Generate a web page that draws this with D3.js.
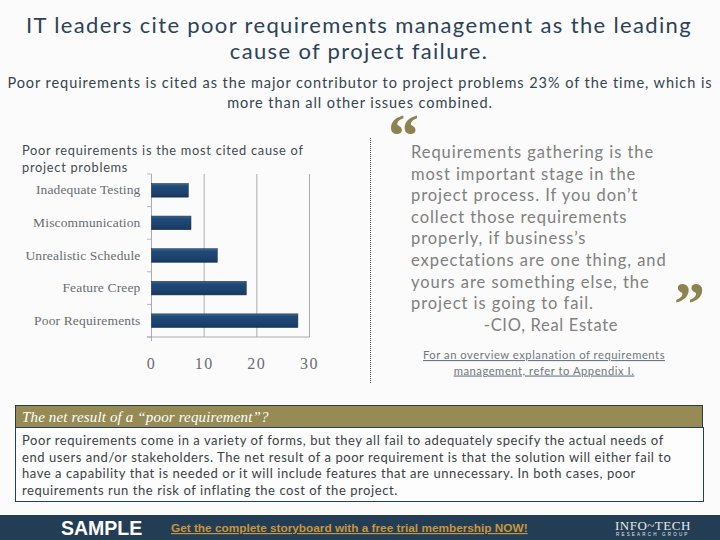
<!DOCTYPE html>
<meta charset="utf-8">
<style>
  html, body { margin: 0; padding: 0; background: #fbfbfb; }
  svg { display: block; }
  text { font-family: Lato, sans-serif; }
</style>
<script src="https://d3js.org/d3.v7.min.js"></script>
<div id="my_dataviz"></div>
<script>
// chart data
var causes = ["Inadequate Testing", "Miscommunication", "Unrealistic Schedule", "Feature Creep", "Poor Requirements"];
var citedValues = [7, 7.5, 12.5, 18, 27.8];
var xTicks = [0, 10, 20, 30];

// slide text
var titleLines = ["IT leaders cite poor requirements management as the leading", "cause of project failure."];
var subLines = ["Poor requirements is cited as the major contributor to project problems 23% of the time, which is", "more than all other issues combined."];
var chartTitleLines = ["Poor requirements is the most cited cause of", "project problems"];
var quoteLines = ["Requirements gathering is the", "most important stage in the", "project process. If you don\u2019t", "collect those requirements", "properly, if business\u2019s", "expectations are one thing, and", "yours are something else, the", "project is going to fail."];
var linkLines = ["For an overview explanation of requirements", "management, refer to Appendix I."];
var boxLines = ["Poor requirements come in a variety of forms, but they all fail to adequately specify the actual needs of", "end users and/or stakeholders. The net result of a poor requirement is that the solution will either fail to", "have a capability that is needed or it will include features that are unnecessary. In both cases, poor", "requirements run the risk of inflating the cost of the project."];

var svg = d3.select("#my_dataviz").append("svg").attr("width", 720).attr("height", 540);

// bar gradient
var grad = svg.append("defs").append("linearGradient").attr("id", "barFill")
  .attr("x1", 0).attr("x2", 0).attr("y1", 0).attr("y2", 1);
grad.append("stop").attr("offset", "0%").attr("stop-color", "#40668f");
grad.append("stop").attr("offset", "20%").attr("stop-color", "#1f4a78");
grad.append("stop").attr("offset", "70%").attr("stop-color", "#1c426c");
grad.append("stop").attr("offset", "100%").attr("stop-color", "#17375a");

// helper for blocks of text lines
function lines(arr, x, y, step, size, color, spacing, anchor) {
  return svg.append("g").selectAll("text").data(arr).enter().append("text")
    .attr("x", x)
    .attr("y", function(d, i) { return y + i * step; })
    .attr("text-anchor", anchor || "start")
    .style("font-size", size + "px")
    .style("letter-spacing", spacing + "px")
    .attr("fill", color)
    .text(function(d) { return d; });
}

lines(titleLines, 359, 33, 26, 22, "#2d4257", 1.35, "middle");
lines(subLines, 360, 88, 19.5, 14.5, "#35444f", 0.94, "middle");
lines(chartTitleLines, 22, 155, 17, 12.8, "#444b52", 0.73);

// the chart
var x = d3.scaleLinear().domain([0, 30]).range([151.5, 309.5]);
var y = d3.scaleBand().domain(causes).range([174, 337]).paddingInner(0.58).paddingOuter(0.29);
var yTicks = d3.scaleBand().domain(causes).range([174, 337]);

// gridlines
svg.append("g").selectAll("line").data(xTicks.slice(1)).enter().append("line")
  .attr("x1", function(d) { return x(d); }).attr("x2", function(d) { return x(d); })
  .attr("y1", 174).attr("y2", 337)
  .attr("stroke", "#a9acae");

// category boundaries
svg.append("g").selectAll("line").data(causes.concat(["end"])).enter().append("line")
  .attr("x1", 147).attr("x2", 151.5)
  .attr("y1", function(d, i) { return 174 + i * yTicks.step(); })
  .attr("y2", function(d, i) { return 174 + i * yTicks.step(); })
  .attr("stroke", "#b5b8ba");
svg.append("line").attr("x1", 151.5).attr("x2", 151.5).attr("y1", 174).attr("y2", 341).attr("stroke", "#a9acae");
svg.append("line").attr("x1", 147).attr("x2", 309.5).attr("y1", 337).attr("y2", 337).attr("stroke", "#a9acae");

svg.append("g").selectAll("rect").data(causes).enter().append("rect")
  .attr("x", x(0))
  .attr("y", function(d) { return y(d); })
  .attr("width", function(d, i) { return x(citedValues[i]) - x(0); })
  .attr("height", y.bandwidth())
  .attr("fill", "url(#barFill)")
  .attr("stroke", "#16304f").attr("stroke-width", 0.5);

svg.append("g").selectAll("text").data(causes).enter().append("text")
  .attr("x", 140.5)
  .attr("y", function(d) { return y(d) + y.bandwidth() / 2 + 4; })
  .attr("text-anchor", "end")
  .style("font-family", "'Liberation Serif', serif").style("font-size", "13.5px")
  .style("letter-spacing", "0.15px")
  .attr("fill", "#696d71")
  .text(function(d) { return d; });

svg.append("g").selectAll("text").data(xTicks).enter().append("text")
  .attr("x", function(d) { return x(d); })
  .attr("y", 369)
  .attr("text-anchor", "middle")
  .style("font-family", "'Liberation Serif', serif").style("font-size", "16px")
  .style("letter-spacing", "1.5px")
  .attr("fill", "#696d71")
  .text(function(d) { return d; });

// quote side
svg.append("line").attr("x1", 370.5).attr("x2", 370.5).attr("y1", 138).attr("y2", 383)
  .attr("stroke", "#444").attr("stroke-dasharray", "1,1");
svg.append("text").attr("x", 388).attr("y", 156).style("font-family", "'Liberation Serif', serif")
  .style("font-size", "62px").style("font-weight", "bold").attr("fill", "#8d8350").text("\u201C");
svg.append("text").attr("x", 674).attr("y", 324).style("font-family", "'Liberation Serif', serif")
  .style("font-size", "62px").style("font-weight", "bold").attr("fill", "#8d8350").text("\u201D");
lines(quoteLines, 411, 158, 21.6, 16.5, "#80807f", 0.95);
svg.append("text").attr("x", 551).attr("y", 331).attr("text-anchor", "middle")
  .style("font-size", "16.5px").style("letter-spacing", "0.7px").attr("fill", "#80807f").text("-CIO, Real Estate");
lines(linkLines, 544, 359, 15.5, 11.2, "#6f7880", 0.55, "middle").style("text-decoration", "underline");

// net result box
svg.append("rect").attr("x", 15.5).attr("y", 405.5).attr("width", 687).attr("height", 22)
  .attr("fill", "#968b55").attr("stroke", "#2f3a3a");
svg.append("text").attr("x", 22).attr("y", 422).style("font-family", "'Liberation Serif', serif")
  .style("font-style", "italic").style("font-size", "15px").style("letter-spacing", "0.15px").attr("fill", "#fff")
  .text("The net result of a \u201Cpoor requirement\u201D?");
svg.append("rect").attr("x", 15.5).attr("y", 427.5).attr("width", 688).attr("height", 74)
  .attr("fill", "#fdfdfd").attr("stroke", "#24405a");
lines(boxLines, 22, 445, 16.6, 13, "#3b4146", 0.565);

// footer banner
svg.append("rect").attr("x", 0).attr("y", 515).attr("width", 720).attr("height", 25).attr("fill", "#233d55");
svg.append("text").attr("x", 61).attr("y", 535).style("font-family", "'Liberation Sans', sans-serif")
  .style("font-size", "19.5px").style("font-weight", "bold").attr("fill", "#fff").text("SAMPLE");
svg.append("text").attr("x", 171).attr("y", 532).style("font-family", "'Liberation Sans', sans-serif")
  .style("font-size", "11.8px").style("font-weight", "bold").style("text-decoration", "underline")
  .attr("fill", "#c8963c").text("Get the complete storyboard with a free trial membership NOW!");
svg.append("text").attr("x", 615).attr("y", 530).style("font-family", "'Liberation Serif', serif")
  .style("font-size", "13px").style("letter-spacing", "0.5px").attr("fill", "#e8e8e8").text("INFO~TECH");
svg.append("text").attr("x", 616).attr("y", 536).style("font-family", "'Liberation Sans', sans-serif")
  .style("font-size", "4.5px").style("letter-spacing", "2.2px").attr("fill", "#e8e8e8").text("RESEARCH GROUP");
</script>
